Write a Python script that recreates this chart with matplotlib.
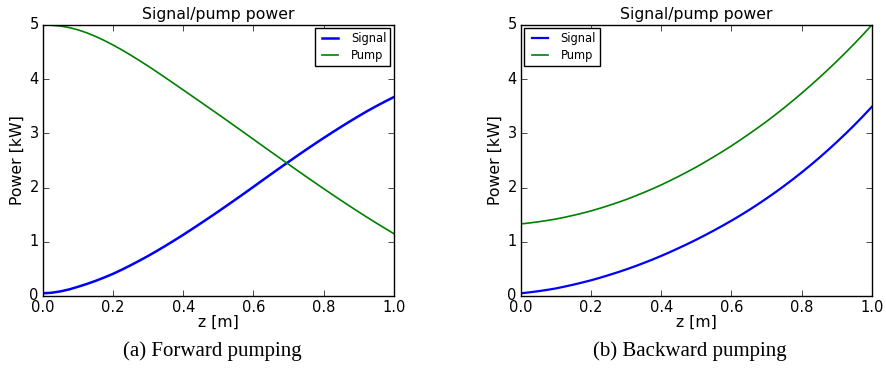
import matplotlib
matplotlib.use("Agg")
import matplotlib.pyplot as plt

plt.style.use("classic")

# values, z in m, power in kW
z = [0.000, 0.025, 0.050, 0.075, 0.100, 0.125, 0.150, 0.175, 0.200, 0.225,
     0.250, 0.275, 0.300, 0.325, 0.350, 0.375, 0.400, 0.425, 0.450, 0.475,
     0.500, 0.525, 0.550, 0.575, 0.600, 0.625, 0.650, 0.675, 0.700, 0.725,
     0.750, 0.775, 0.800, 0.825, 0.850, 0.875, 0.900, 0.925, 0.950, 0.975,
     1.000]

fwd_signal = [0.050, 0.060, 0.085, 0.122, 0.170, 0.222, 0.279, 0.342, 0.410, 0.486,
              0.567, 0.652, 0.740, 0.833, 0.929, 1.028, 1.130, 1.235, 1.342, 1.450,
              1.560, 1.672, 1.785, 1.899, 2.015, 2.131, 2.247, 2.362, 2.475, 2.588,
              2.699, 2.808, 2.915, 3.020, 3.122, 3.222, 3.320, 3.414, 3.503, 3.588,
              3.670]
fwd_pump = [5.000, 4.996, 4.980, 4.952, 4.910, 4.855, 4.789, 4.713, 4.630, 4.540,
            4.444, 4.344, 4.240, 4.133, 4.023, 3.912, 3.800, 3.688, 3.576, 3.463,
            3.350, 3.236, 3.121, 3.006, 2.890, 2.774, 2.659, 2.544, 2.430, 2.316,
            2.203, 2.091, 1.980, 1.870, 1.762, 1.655, 1.550, 1.447, 1.346, 1.247,
            1.150]

bwd_signal = [0.050, 0.068, 0.089, 0.113, 0.140, 0.174, 0.210, 0.249, 0.290, 0.336,
              0.385, 0.436, 0.490, 0.548, 0.609, 0.673, 0.740, 0.811, 0.885, 0.961,
              1.040, 1.123, 1.209, 1.298, 1.390, 1.486, 1.586, 1.691, 1.800, 1.913,
              2.031, 2.153, 2.280, 2.412, 2.549, 2.692, 2.840, 2.993, 3.152, 3.318,
              3.490]
bwd_pump = [1.330, 1.348, 1.369, 1.393, 1.420, 1.453, 1.489, 1.528, 1.570, 1.618,
            1.669, 1.723, 1.780, 1.843, 1.909, 1.978, 2.050, 2.128, 2.209, 2.293,
            2.380, 2.473, 2.569, 2.668, 2.770, 2.878, 2.989, 3.103, 3.220, 3.344,
            3.472, 3.604, 3.740, 3.881, 4.026, 4.176, 4.330, 4.489, 4.654, 4.824,
            5.000]

captions = ["(a) Forward pumping", "(b) Backward pumping"]
legend_loc = ["upper right", "upper left"]

fig = plt.figure(figsize=(8.86, 3.68), dpi=100, facecolor="white")
ax1 = fig.add_axes([0.0485, 0.1957, 0.396, 0.7364])
ax2 = fig.add_axes([0.588, 0.1957, 0.396, 0.7364])

panels = [(ax1, fwd_signal, fwd_pump, 1.8), (ax2, bwd_signal, bwd_pump, 1.6)]

for i, (ax, sig, pump, sig_lw) in enumerate(panels):
    ax.plot(z, sig, color="b", lw=sig_lw, label="Signal")
    ax.plot(z, pump, color="g", lw=1.2, label="Pump")
    ax.set_xlim(0, 1)
    ax.set_ylim(0, 5)
    ax.set_xticks([0.0, 0.2, 0.4, 0.6, 0.8, 1.0])
    ax.set_yticks([0, 1, 2, 3, 4, 5])
    ax.tick_params(labelsize=10.5, pad=3)
    ax.set_title("Signal/pump power", fontsize=11.3, pad=4)
    ax.set_xlabel("z [m]", fontsize=11.3, labelpad=0)
    ax.set_ylabel("Power [kW]", fontsize=11.3, labelpad=3)
    ax.legend(loc=legend_loc[i], fontsize=8.3, frameon=True, handlelength=2.0,
              borderpad=0.35, labelspacing=0.3, borderaxespad=0.3)
    ax.set_facecolor("white")
    box = ax.get_position()
    fig.text(box.x0 + box.width / 2 - 0.007, 0.046, captions[i],
             ha="center", va="center", fontsize=15, family="Liberation Serif")

fig.savefig("out.png", dpi=100, facecolor="white")
